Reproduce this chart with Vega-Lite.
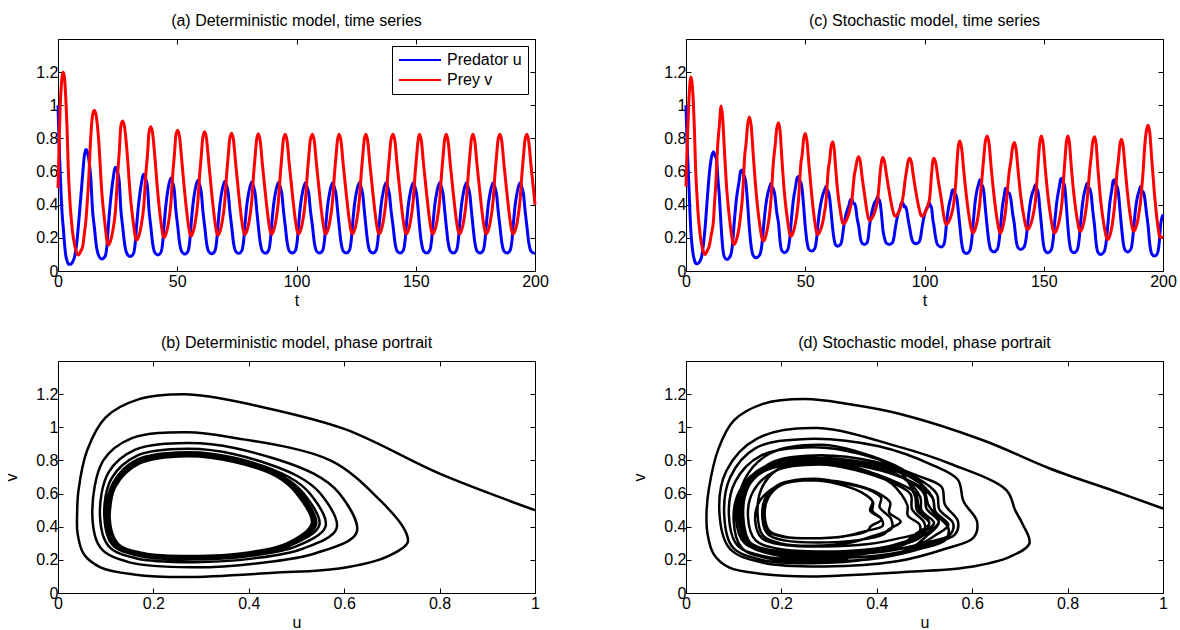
{
"$schema": "https://vega.github.io/schema/vega-lite/v6.json",
"padding": {"left": 3, "top": 12, "right": 5, "bottom": 0},
"bounds": "flush",
"columns": 2,
"spacing": {"row": 90, "column": 151},
"config": {
"font": "Liberation Sans",
"view": {"stroke": "black", "strokeWidth": 1},
"axis": {"grid": false, "domainColor": "black", "tickColor": "black", "labelColor": "black", "titleColor": "black", "labelFontSize": 16, "titleFontSize": 16, "titleFontWeight": "normal", "tickSize": -5, "labelFont": "Liberation Sans", "titleFont": "Liberation Sans", "labelOverlap": false, "labelFlush": false, "labelBound": false},
"axisX": {"labelPadding": 7, "titlePadding": 3},
"axisY": {"labelPadding": 5, "titlePadding": 16},
"title": {"fontSize": 16, "fontWeight": "normal", "color": "black", "font": "Liberation Sans", "offset": 10, "anchor": "middle"}
},
"datasets": {
"det": [
{"t":0,"u":1.0,"v":0.5},{"t":0.4,"u":0.8,"v":0.72},{"t":0.9,"u":0.6,"v":0.99},{"t":1.5,"u":0.4,"v":1.14},{"t":1.8,"u":0.33,"v":1.18},{"t":2.2,"u":0.265,"v":1.2},{"t":2.7,"u":0.17,"v":1.17},{"t":3.2,"u":0.1,"v":1.06},{"t":3.8,"u":0.061,"v":0.86},{"t":4.3,"u":0.043,"v":0.62},{"t":4.8,"u":0.04,"v":0.47},{"t":5.3,"u":0.041,"v":0.36},{"t":6.1,"u":0.054,"v":0.235},{"t":7.0,"u":0.089,"v":0.155},{"t":7.8,"u":0.159,"v":0.112},{"t":8.5,"u":0.265,"v":0.096},{"t":9.6,"u":0.452,"v":0.122},{"t":10.4,"u":0.593,"v":0.15},{"t":11.0,"u":0.69,"v":0.22},{"t":11.7,"u":0.733,"v":0.305},{"t":12.1,"u":0.727,"v":0.38},{"t":12.9,"u":0.676,"v":0.557},{"t":13.7,"u":0.571,"v":0.8},{"t":14.5,"u":0.362,"v":0.94},
{"t":15.2,"u":0.27,"v":0.97},{"t":16.05,"u":0.155,"v":0.935},{"t":17.0,"u":0.095,"v":0.8},{"t":18.4,"u":0.072,"v":0.47},{"t":19.8,"u":0.09,"v":0.27},{"t":20.5,"u":0.15,"v":0.185},{"t":21.15,"u":0.28,"v":0.155},{"t":22.0,"u":0.42,"v":0.18},{"t":22.95,"u":0.54,"v":0.24},{"t":24.1,"u":0.626,"v":0.365},{"t":25.1,"u":0.59,"v":0.6},{"t":25.7,"u":0.536,"v":0.72},{"t":26.35,"u":0.37,"v":0.875},
{"t":27.1,"u":0.27,"v":0.905},{"t":27.95,"u":0.162,"v":0.865},{"t":28.9,"u":0.106,"v":0.728},{"t":30.25,"u":0.088,"v":0.466},{"t":31.65,"u":0.106,"v":0.283},{"t":32.35,"u":0.163,"v":0.21},{"t":33.0,"u":0.28,"v":0.186},{"t":33.85,"u":0.411,"v":0.209},{"t":34.8,"u":0.513,"v":0.267},{"t":35.95,"u":0.584,"v":0.39},{"t":36.9,"u":0.55,"v":0.6},{"t":37.55,"u":0.502,"v":0.706},{"t":38.15,"u":0.37,"v":0.837},
{"t":38.9,"u":0.27,"v":0.87},{"t":39.7,"u":0.165,"v":0.828},{"t":40.6,"u":0.112,"v":0.69},{"t":41.9,"u":0.097,"v":0.463},{"t":43.2,"u":0.114,"v":0.291},{"t":43.9,"u":0.171,"v":0.223},{"t":44.5,"u":0.28,"v":0.202},{"t":45.3,"u":0.406,"v":0.225},{"t":46.2,"u":0.499,"v":0.281},{"t":47.3,"u":0.561,"v":0.403},{"t":48.2,"u":0.528,"v":0.6},{"t":48.8,"u":0.484,"v":0.7},{"t":49.4,"u":0.37,"v":0.816},
{"t":50.2,"u":0.27,"v":0.85},{"t":51.0,"u":0.167,"v":0.806},{"t":51.9,"u":0.116,"v":0.667},{"t":53.2,"u":0.102,"v":0.462},{"t":54.5,"u":0.119,"v":0.295},{"t":55.2,"u":0.175,"v":0.231},{"t":55.8,"u":0.28,"v":0.211},{"t":56.6,"u":0.403,"v":0.234},{"t":57.5,"u":0.49,"v":0.29},{"t":58.6,"u":0.548,"v":0.411},{"t":59.5,"u":0.515,"v":0.6},{"t":60.1,"u":0.473,"v":0.7},{"t":60.7,"u":0.37,"v":0.804},
{"t":61.5,"u":0.27,"v":0.84},{"t":62.3,"u":0.168,"v":0.796},{"t":63.2,"u":0.117,"v":0.656},{"t":64.5,"u":0.104,"v":0.461},{"t":65.8,"u":0.121,"v":0.297},{"t":66.5,"u":0.177,"v":0.234},{"t":67.1,"u":0.28,"v":0.216},{"t":67.9,"u":0.402,"v":0.238},{"t":68.8,"u":0.486,"v":0.294},{"t":69.9,"u":0.541,"v":0.414},{"t":70.8,"u":0.509,"v":0.6},{"t":71.4,"u":0.468,"v":0.7},{"t":72.0,"u":0.37,"v":0.798},
{"t":72.8,"u":0.27,"v":0.832},{"t":73.6,"u":0.169,"v":0.788},{"t":74.5,"u":0.119,"v":0.648},{"t":75.8,"u":0.106,"v":0.46},{"t":77.1,"u":0.123,"v":0.298},{"t":77.8,"u":0.178,"v":0.237},{"t":78.4,"u":0.28,"v":0.22},{"t":79.2,"u":0.401,"v":0.242},{"t":80.1,"u":0.483,"v":0.297},{"t":81.2,"u":0.537,"v":0.417},{"t":82.1,"u":0.505,"v":0.6},{"t":82.7,"u":0.464,"v":0.7},{"t":83.3,"u":0.37,"v":0.794},
{"t":84.0,"u":0.27,"v":0.828},{"t":84.8,"u":0.17,"v":0.783},{"t":85.7,"u":0.12,"v":0.643},{"t":87.0,"u":0.107,"v":0.46},{"t":88.3,"u":0.124,"v":0.299},{"t":89.0,"u":0.179,"v":0.239},{"t":89.6,"u":0.28,"v":0.222},{"t":90.4,"u":0.4,"v":0.244},{"t":91.3,"u":0.481,"v":0.299},{"t":92.4,"u":0.534,"v":0.419},{"t":93.3,"u":0.502,"v":0.6},{"t":93.9,"u":0.462,"v":0.7},{"t":94.5,"u":0.37,"v":0.792},
{"t":95.3,"u":0.27,"v":0.825},{"t":96.1,"u":0.17,"v":0.78},{"t":97.0,"u":0.12,"v":0.64},{"t":98.3,"u":0.108,"v":0.46},{"t":99.6,"u":0.125,"v":0.3},{"t":100.3,"u":0.18,"v":0.24},{"t":100.9,"u":0.28,"v":0.223},{"t":101.7,"u":0.4,"v":0.245},{"t":102.6,"u":0.48,"v":0.3},{"t":103.7,"u":0.532,"v":0.42},{"t":104.6,"u":0.5,"v":0.6},{"t":105.2,"u":0.46,"v":0.7},{"t":105.8,"u":0.37,"v":0.79},
{"t":106.7,"u":0.27,"v":0.825},{"t":107.5,"u":0.17,"v":0.78},{"t":108.4,"u":0.12,"v":0.64},{"t":109.7,"u":0.108,"v":0.46},{"t":111.0,"u":0.125,"v":0.3},{"t":111.7,"u":0.18,"v":0.24},{"t":112.3,"u":0.28,"v":0.223},{"t":113.1,"u":0.4,"v":0.245},{"t":114.0,"u":0.48,"v":0.3},{"t":115.1,"u":0.532,"v":0.42},{"t":116.0,"u":0.5,"v":0.6},{"t":116.6,"u":0.46,"v":0.7},{"t":117.2,"u":0.37,"v":0.79},
{"t":117.9,"u":0.27,"v":0.825},{"t":118.7,"u":0.17,"v":0.78},{"t":119.6,"u":0.12,"v":0.64},{"t":120.9,"u":0.108,"v":0.46},{"t":122.2,"u":0.125,"v":0.3},{"t":122.9,"u":0.18,"v":0.24},{"t":123.5,"u":0.28,"v":0.223},{"t":124.3,"u":0.4,"v":0.245},{"t":125.2,"u":0.48,"v":0.3},{"t":126.3,"u":0.532,"v":0.42},{"t":127.2,"u":0.5,"v":0.6},{"t":127.8,"u":0.46,"v":0.7},{"t":128.4,"u":0.37,"v":0.79},
{"t":129.1,"u":0.27,"v":0.825},{"t":129.9,"u":0.17,"v":0.78},{"t":130.8,"u":0.12,"v":0.64},{"t":132.1,"u":0.108,"v":0.46},{"t":133.4,"u":0.125,"v":0.3},{"t":134.1,"u":0.18,"v":0.24},{"t":134.7,"u":0.28,"v":0.223},{"t":135.5,"u":0.4,"v":0.245},{"t":136.4,"u":0.48,"v":0.3},{"t":137.5,"u":0.532,"v":0.42},{"t":138.4,"u":0.5,"v":0.6},{"t":139.0,"u":0.46,"v":0.7},{"t":139.6,"u":0.37,"v":0.79},
{"t":140.5,"u":0.27,"v":0.825},{"t":141.3,"u":0.17,"v":0.78},{"t":142.2,"u":0.12,"v":0.64},{"t":143.5,"u":0.108,"v":0.46},{"t":144.8,"u":0.125,"v":0.3},{"t":145.5,"u":0.18,"v":0.24},{"t":146.1,"u":0.28,"v":0.223},{"t":146.9,"u":0.4,"v":0.245},{"t":147.8,"u":0.48,"v":0.3},{"t":148.9,"u":0.532,"v":0.42},{"t":149.8,"u":0.5,"v":0.6},{"t":150.4,"u":0.46,"v":0.7},{"t":151.0,"u":0.37,"v":0.79},
{"t":151.6,"u":0.27,"v":0.825},{"t":152.4,"u":0.17,"v":0.78},{"t":153.3,"u":0.12,"v":0.64},{"t":154.6,"u":0.108,"v":0.46},{"t":155.9,"u":0.125,"v":0.3},{"t":156.6,"u":0.18,"v":0.24},{"t":157.2,"u":0.28,"v":0.223},{"t":158.0,"u":0.4,"v":0.245},{"t":158.9,"u":0.48,"v":0.3},{"t":160.0,"u":0.532,"v":0.42},{"t":160.9,"u":0.5,"v":0.6},{"t":161.5,"u":0.46,"v":0.7},{"t":162.1,"u":0.37,"v":0.79},
{"t":162.8,"u":0.27,"v":0.825},{"t":163.6,"u":0.17,"v":0.78},{"t":164.5,"u":0.12,"v":0.64},{"t":165.8,"u":0.108,"v":0.46},{"t":167.1,"u":0.125,"v":0.3},{"t":167.8,"u":0.18,"v":0.24},{"t":168.4,"u":0.28,"v":0.223},{"t":169.2,"u":0.4,"v":0.245},{"t":170.1,"u":0.48,"v":0.3},{"t":171.2,"u":0.532,"v":0.42},{"t":172.1,"u":0.5,"v":0.6},{"t":172.7,"u":0.46,"v":0.7},{"t":173.3,"u":0.37,"v":0.79},
{"t":174.0,"u":0.27,"v":0.825},{"t":174.8,"u":0.17,"v":0.78},{"t":175.7,"u":0.12,"v":0.64},{"t":177.0,"u":0.108,"v":0.46},{"t":178.3,"u":0.125,"v":0.3},{"t":179.0,"u":0.18,"v":0.24},{"t":179.6,"u":0.28,"v":0.223},{"t":180.4,"u":0.4,"v":0.245},{"t":181.3,"u":0.48,"v":0.3},{"t":182.4,"u":0.532,"v":0.42},{"t":183.3,"u":0.5,"v":0.6},{"t":183.9,"u":0.46,"v":0.7},{"t":184.5,"u":0.37,"v":0.79},
{"t":185.3,"u":0.27,"v":0.825},{"t":186.1,"u":0.17,"v":0.78},{"t":187.0,"u":0.12,"v":0.64},{"t":188.3,"u":0.108,"v":0.46},{"t":189.6,"u":0.125,"v":0.3},{"t":190.3,"u":0.18,"v":0.24},{"t":190.9,"u":0.28,"v":0.223},{"t":191.7,"u":0.4,"v":0.245},{"t":192.6,"u":0.48,"v":0.3},{"t":193.7,"u":0.532,"v":0.42},{"t":194.6,"u":0.5,"v":0.6},{"t":195.2,"u":0.46,"v":0.7},{"t":195.8,"u":0.37,"v":0.79},
{"t":196.6,"u":0.27,"v":0.825},{"t":197.4,"u":0.17,"v":0.78},{"t":198.3,"u":0.12,"v":0.64},{"t":199.6,"u":0.108,"v":0.46},{"t":200,"u":0.11,"v":0.4}
],
"sto": [
{"t":0,"u":1.0,"v":0.51},{"t":0.2,"u":0.896,"v":0.617},{"t":0.5,"u":0.764,"v":0.75},{"t":0.9,"u":0.624,"v":0.92},{"t":1.4,"u":0.449,"v":1.08},{"t":1.7,"u":0.34,"v":1.14},{"t":2.0,"u":0.25,"v":1.17},{"t":2.5,"u":0.16,"v":1.14},{"t":3.0,"u":0.1,"v":1.04},{"t":3.5,"u":0.068,"v":0.87},{"t":4.0,"u":0.048,"v":0.63},{"t":4.5,"u":0.043,"v":0.48},{"t":5.0,"u":0.045,"v":0.36},{"t":5.8,"u":0.058,"v":0.235},{"t":6.6,"u":0.09,"v":0.155},{"t":7.3,"u":0.16,"v":0.115},{"t":8.0,"u":0.26,"v":0.1},{"t":9.0,"u":0.45,"v":0.125},{"t":9.8,"u":0.59,"v":0.155},{"t":10.6,"u":0.68,"v":0.22},{"t":11.5,"u":0.72,"v":0.3},{"t":12.0,"u":0.705,"v":0.42},{"t":12.4,"u":0.69,"v":0.5},{"t":12.8,"u":0.672,"v":0.62},{"t":13.4,"u":0.554,"v":0.78},{"t":14.0,"u":0.449,"v":0.88},
{"t":14.7,"u":0.276,"v":0.995},{"t":15.35,"u":0.149,"v":0.932},{"t":16.07,"u":0.085,"v":0.739},{"t":17.1,"u":0.07,"v":0.489},{"t":18.65,"u":0.092,"v":0.267},{"t":19.5,"u":0.162,"v":0.183},{"t":20.2,"u":0.289,"v":0.16},{"t":21.2,"u":0.442,"v":0.191},{"t":22.3,"u":0.544,"v":0.267},{"t":22.9,"u":0.603,"v":0.335},{"t":23.6,"u":0.61,"v":0.433},{"t":24.1,"u":0.582,"v":0.552},{"t":24.55,"u":0.57,"v":0.683},{"t":25.2,"u":0.518,"v":0.77},{"t":25.85,"u":0.404,"v":0.885},
{"t":26.6,"u":0.252,"v":0.93},{"t":27.35,"u":0.146,"v":0.874},{"t":28.2,"u":0.093,"v":0.7},{"t":29.4,"u":0.08,"v":0.476},{"t":30.95,"u":0.098,"v":0.276},{"t":31.8,"u":0.157,"v":0.201},{"t":32.5,"u":0.263,"v":0.18},{"t":33.4,"u":0.39,"v":0.208},{"t":34.4,"u":0.475,"v":0.276},{"t":35.0,"u":0.502,"v":0.338},{"t":35.6,"u":0.53,"v":0.425},{"t":36.1,"u":0.508,"v":0.533},{"t":36.6,"u":0.496,"v":0.65},{"t":37.3,"u":0.454,"v":0.746},{"t":38.0,"u":0.358,"v":0.854},
{"t":38.8,"u":0.286,"v":0.895},{"t":39.45,"u":0.177,"v":0.844},{"t":40.17,"u":0.123,"v":0.685},{"t":41.2,"u":0.11,"v":0.48},{"t":42.65,"u":0.128,"v":0.298},{"t":43.43,"u":0.188,"v":0.229},{"t":44.1,"u":0.297,"v":0.21},{"t":45.0,"u":0.427,"v":0.235},{"t":46.0,"u":0.513,"v":0.298},{"t":46.6,"u":0.564,"v":0.354},{"t":47.2,"u":0.57,"v":0.434},{"t":47.65,"u":0.543,"v":0.532},{"t":48.1,"u":0.536,"v":0.639},{"t":48.7,"u":0.492,"v":0.701},{"t":49.3,"u":0.394,"v":0.794},
{"t":50.0,"u":0.269,"v":0.83},{"t":50.73,"u":0.177,"v":0.784},{"t":51.54,"u":0.131,"v":0.643},{"t":52.7,"u":0.12,"v":0.46},{"t":54.0,"u":0.136,"v":0.298},{"t":54.7,"u":0.186,"v":0.237},{"t":55.3,"u":0.278,"v":0.22},{"t":56.3,"u":0.389,"v":0.243},{"t":57.4,"u":0.462,"v":0.298},{"t":58.0,"u":0.484,"v":0.348},{"t":58.7,"u":0.51,"v":0.419},{"t":59.15,"u":0.489,"v":0.507},{"t":59.6,"u":0.481,"v":0.602},{"t":60.2,"u":0.444,"v":0.664},{"t":60.8,"u":0.361,"v":0.748},
{"t":61.5,"u":0.257,"v":0.78},{"t":62.1,"u":0.191,"v":0.743},{"t":62.7,"u":0.158,"v":0.628},{"t":63.6,"u":0.15,"v":0.48},{"t":64.85,"u":0.161,"v":0.348},{"t":65.5,"u":0.198,"v":0.299},{"t":66.1,"u":0.264,"v":0.285},{"t":67.1,"u":0.343,"v":0.303},{"t":68.3,"u":0.396,"v":0.348},{"t":69.0,"u":0.431,"v":0.389},{"t":69.7,"u":0.43,"v":0.447},{"t":70.15,"u":0.406,"v":0.518},{"t":70.55,"u":0.409,"v":0.575},{"t":71.2,"u":0.382,"v":0.625},{"t":71.7,"u":0.323,"v":0.667},
{"t":72.4,"u":0.271,"v":0.69},{"t":73.08,"u":0.202,"v":0.661},{"t":73.8,"u":0.168,"v":0.572},{"t":74.9,"u":0.16,"v":0.457},{"t":75.95,"u":0.172,"v":0.354},{"t":76.5,"u":0.209,"v":0.316},{"t":77.0,"u":0.278,"v":0.305},{"t":78.0,"u":0.36,"v":0.319},{"t":79.1,"u":0.414,"v":0.354},{"t":79.7,"u":0.426,"v":0.386},{"t":80.4,"u":0.45,"v":0.431},{"t":80.75,"u":0.426,"v":0.486},{"t":81.1,"u":0.428,"v":0.546},{"t":81.5,"u":0.401,"v":0.606},{"t":82.0,"u":0.339,"v":0.663},
{"t":82.5,"u":0.256,"v":0.685},{"t":83.25,"u":0.197,"v":0.658},{"t":84.1,"u":0.167,"v":0.576},{"t":85.3,"u":0.16,"v":0.47},{"t":86.55,"u":0.17,"v":0.375},{"t":87.2,"u":0.203,"v":0.34},{"t":87.8,"u":0.262,"v":0.33},{"t":88.7,"u":0.332,"v":0.343},{"t":89.75,"u":0.379,"v":0.375},{"t":90.35,"u":0.412,"v":0.405},{"t":91.0,"u":0.41,"v":0.446},{"t":91.45,"u":0.386,"v":0.497},{"t":91.9,"u":0.391,"v":0.552},{"t":92.5,"u":0.368,"v":0.607},{"t":93.1,"u":0.315,"v":0.66},
{"t":93.8,"u":0.259,"v":0.68},{"t":94.53,"u":0.201,"v":0.654},{"t":95.34,"u":0.172,"v":0.573},{"t":96.5,"u":0.165,"v":0.468},{"t":97.75,"u":0.175,"v":0.375},{"t":98.4,"u":0.207,"v":0.34},{"t":99.0,"u":0.264,"v":0.33},{"t":99.9,"u":0.334,"v":0.343},{"t":100.95,"u":0.38,"v":0.375},{"t":101.55,"u":0.388,"v":0.404},{"t":102.2,"u":0.41,"v":0.444},{"t":102.5,"u":0.391,"v":0.495},{"t":102.75,"u":0.392,"v":0.549},{"t":103.1,"u":0.368,"v":0.607},{"t":103.45,"u":0.316,"v":0.66},
{"t":103.9,"u":0.277,"v":0.68},{"t":104.74,"u":0.195,"v":0.65},{"t":105.67,"u":0.155,"v":0.557},{"t":107.0,"u":0.145,"v":0.438},{"t":108.1,"u":0.159,"v":0.331},{"t":108.7,"u":0.204,"v":0.291},{"t":109.2,"u":0.285,"v":0.28},{"t":110.1,"u":0.383,"v":0.295},{"t":111.1,"u":0.448,"v":0.331},{"t":111.7,"u":0.488,"v":0.364},{"t":112.3,"u":0.49,"v":0.411},{"t":112.7,"u":0.465,"v":0.468},{"t":113.1,"u":0.464,"v":0.53},{"t":113.65,"u":0.431,"v":0.66},{"t":114.2,"u":0.358,"v":0.756},
{"t":114.8,"u":0.275,"v":0.785},{"t":115.56,"u":0.17,"v":0.743},{"t":116.4,"u":0.117,"v":0.615},{"t":117.6,"u":0.105,"v":0.449},{"t":119.0,"u":0.123,"v":0.301},{"t":119.76,"u":0.181,"v":0.246},{"t":120.4,"u":0.286,"v":0.23},{"t":121.2,"u":0.412,"v":0.251},{"t":122.1,"u":0.495,"v":0.301},{"t":122.65,"u":0.522,"v":0.347},{"t":123.2,"u":0.55,"v":0.411},{"t":123.7,"u":0.523,"v":0.491},{"t":124.2,"u":0.517,"v":0.577},{"t":124.9,"u":0.474,"v":0.693},{"t":125.5,"u":0.38,"v":0.781},
{"t":126.3,"u":0.262,"v":0.815},{"t":127.06,"u":0.171,"v":0.771},{"t":127.9,"u":0.126,"v":0.635},{"t":129.1,"u":0.115,"v":0.46},{"t":130.5,"u":0.13,"v":0.305},{"t":131.26,"u":0.18,"v":0.246},{"t":131.9,"u":0.271,"v":0.23},{"t":132.6,"u":0.38,"v":0.252},{"t":133.4,"u":0.453,"v":0.305},{"t":133.9,"u":0.497,"v":0.353},{"t":134.4,"u":0.5,"v":0.421},{"t":134.9,"u":0.474,"v":0.505},{"t":135.5,"u":0.471,"v":0.596},{"t":136.2,"u":0.435,"v":0.662},{"t":136.9,"u":0.353,"v":0.743},
{"t":137.7,"u":0.279,"v":0.775},{"t":138.4,"u":0.187,"v":0.736},{"t":139.2,"u":0.141,"v":0.614},{"t":140.3,"u":0.13,"v":0.457},{"t":141.8,"u":0.146,"v":0.317},{"t":142.6,"u":0.196,"v":0.265},{"t":143.3,"u":0.288,"v":0.25},{"t":144.2,"u":0.399,"v":0.269},{"t":145.25,"u":0.472,"v":0.317},{"t":145.85,"u":0.492,"v":0.36},{"t":146.5,"u":0.52,"v":0.422},{"t":146.9,"u":0.494,"v":0.497},{"t":147.3,"u":0.491,"v":0.579},{"t":147.85,"u":0.454,"v":0.697},{"t":148.4,"u":0.371,"v":0.782},
{"t":149.0,"u":0.282,"v":0.815},{"t":149.73,"u":0.176,"v":0.771},{"t":150.54,"u":0.123,"v":0.635},{"t":151.7,"u":0.11,"v":0.46},{"t":153.15,"u":0.128,"v":0.305},{"t":153.93,"u":0.187,"v":0.246},{"t":154.6,"u":0.293,"v":0.23},{"t":155.5,"u":0.42,"v":0.252},{"t":156.5,"u":0.505,"v":0.305},{"t":157.1,"u":0.554,"v":0.353},{"t":157.7,"u":0.56,"v":0.421},{"t":158.1,"u":0.531,"v":0.505},{"t":158.5,"u":0.526,"v":0.596},{"t":159.0,"u":0.484,"v":0.693},{"t":159.5,"u":0.388,"v":0.781},
{"t":160.1,"u":0.27,"v":0.815},{"t":160.78,"u":0.171,"v":0.772},{"t":161.5,"u":0.122,"v":0.638},{"t":162.6,"u":0.11,"v":0.467},{"t":164.0,"u":0.127,"v":0.314},{"t":164.76,"u":0.181,"v":0.256},{"t":165.4,"u":0.281,"v":0.24},{"t":166.2,"u":0.399,"v":0.261},{"t":167.1,"u":0.478,"v":0.314},{"t":167.6,"u":0.503,"v":0.361},{"t":168.2,"u":0.53,"v":0.428},{"t":168.7,"u":0.504,"v":0.51},{"t":169.2,"u":0.499,"v":0.6},{"t":169.9,"u":0.459,"v":0.691},{"t":170.5,"u":0.37,"v":0.777},
{"t":171.3,"u":0.272,"v":0.81},{"t":171.98,"u":0.166,"v":0.764},{"t":172.7,"u":0.113,"v":0.62},{"t":173.8,"u":0.1,"v":0.434},{"t":175.35,"u":0.118,"v":0.269},{"t":176.2,"u":0.177,"v":0.207},{"t":176.9,"u":0.283,"v":0.19},{"t":177.7,"u":0.41,"v":0.213},{"t":178.6,"u":0.495,"v":0.269},{"t":179.1,"u":0.544,"v":0.32},{"t":179.7,"u":0.55,"v":0.393},{"t":180.2,"u":0.523,"v":0.481},{"t":180.6,"u":0.516,"v":0.578},{"t":181.3,"u":0.474,"v":0.669},{"t":181.9,"u":0.378,"v":0.76},
{"t":182.6,"u":0.266,"v":0.795},{"t":183.3,"u":0.173,"v":0.753},{"t":184.1,"u":0.126,"v":0.625},{"t":185.2,"u":0.115,"v":0.459},{"t":186.5,"u":0.131,"v":0.311},{"t":187.2,"u":0.182,"v":0.256},{"t":187.8,"u":0.275,"v":0.24},{"t":188.6,"u":0.387,"v":0.261},{"t":189.5,"u":0.461,"v":0.311},{"t":190.0,"u":0.482,"v":0.357},{"t":190.6,"u":0.51,"v":0.421},{"t":191.1,"u":0.484,"v":0.501},{"t":191.6,"u":0.48,"v":0.587},{"t":192.3,"u":0.443,"v":0.747},{"t":193.0,"u":0.359,"v":0.843},
{"t":193.8,"u":0.266,"v":0.88},{"t":194.5,"u":0.157,"v":0.829},{"t":195.3,"u":0.103,"v":0.671},{"t":196.4,"u":0.09,"v":0.468},{"t":197.7,"u":0.108,"v":0.287},{"t":198.4,"u":0.168,"v":0.219},{"t":199.0,"u":0.277,"v":0.2},{"t":200,"u":0.34,"v":0.21}
]
},
"concat": [
{
"width": 477, "height": 232,
"title": "(a) Deterministic model, time series",
"data": {"name": "det"},
"transform": [{"fold": ["u", "v"], "as": ["series", "value"]}],
"layer": [
{"mark": {"type": "line", "strokeWidth": 3, "interpolate": "monotone"},
"encoding": {
"x": {"field": "t", "type": "quantitative", "scale": {"domain": [0, 200], "nice": false}, "axis": {"title": "t", "values": [0, 50, 100, 150, 200], "format": "d"}},
"y": {"field": "value", "type": "quantitative", "scale": {"domain": [0, 1.4], "nice": false}, "axis": {"title": null, "values": [0, 0.2, 0.4, 0.6, 0.8, 1, 1.2], "format": ".1~f"}},
"color": {"field": "series", "type": "nominal", "scale": {"domain": ["u", "v"], "range": ["#0000ff", "#ff0000"]},
"legend": {"title": null, "orient": "none", "legendX": 334, "legendY": 7, "strokeColor": "black", "fillColor": "white", "padding": 6, "labelFontSize": 16, "labelFont": "Liberation Sans", "labelColor": "black", "symbolType": "stroke", "symbolStrokeWidth": 2, "symbolSize": 1764, "labelOffset": 5, "clipHeight": 16, "rowPadding": 4, "cornerRadius": 0, "labelExpr": "datum.label == 'u' ? 'Predator u' : 'Prey v'"}}
}},
{"mark": {"type": "line", "strokeOpacity": 0},
"encoding": {
"x": {"field": "t", "type": "quantitative", "axis": {"orient": "top", "labels": false, "title": null, "values": [0, 50, 100, 150, 200]}},
"y": {"field": "value", "type": "quantitative", "axis": {"orient": "right", "labels": false, "title": null, "values": [0, 0.2, 0.4, 0.6, 0.8, 1, 1.2]}}
}}
],
"resolve": {"axis": {"x": "independent", "y": "independent"}}
},
{
"width": 477, "height": 232,
"title": "(c) Stochastic model, time series",
"data": {"name": "sto"},
"transform": [{"fold": ["u", "v"], "as": ["series", "value"]}],
"layer": [
{"mark": {"type": "line", "strokeWidth": 3, "interpolate": "monotone"},
"encoding": {
"x": {"field": "t", "type": "quantitative", "scale": {"domain": [0, 200], "nice": false}, "axis": {"title": "t", "values": [0, 50, 100, 150, 200], "format": "d"}},
"y": {"field": "value", "type": "quantitative", "scale": {"domain": [0, 1.4], "nice": false}, "axis": {"title": null, "values": [0, 0.2, 0.4, 0.6, 0.8, 1, 1.2], "format": ".1~f"}},
"color": {"field": "series", "type": "nominal", "scale": {"domain": ["u", "v"], "range": ["#0000ff", "#ff0000"]}, "legend": null}
}},
{"mark": {"type": "line", "strokeOpacity": 0},
"encoding": {
"x": {"field": "t", "type": "quantitative", "axis": {"orient": "top", "labels": false, "title": null, "values": [0, 50, 100, 150, 200]}},
"y": {"field": "value", "type": "quantitative", "axis": {"orient": "right", "labels": false, "title": null, "values": [0, 0.2, 0.4, 0.6, 0.8, 1, 1.2]}}
}}
],
"resolve": {"axis": {"x": "independent", "y": "independent"}}
},
{
"width": 477, "height": 232,
"title": "(b) Deterministic model, phase portrait",
"data": {"name": "det"},
"layer": [
{"mark": {"type": "line", "color": "black", "strokeWidth": 2.5, "interpolate": "catmull-rom"},
"encoding": {
"x": {"field": "u", "type": "quantitative", "scale": {"domain": [0, 1], "nice": false}, "axis": {"title": "u", "values": [0, 0.2, 0.4, 0.6, 0.8, 1], "format": ".1~f"}},
"y": {"field": "v", "type": "quantitative", "scale": {"domain": [0, 1.4], "nice": false}, "axis": {"title": "v", "values": [0, 0.2, 0.4, 0.6, 0.8, 1, 1.2], "format": ".1~f"}},
"order": {"field": "t", "type": "quantitative"}
}},
{"mark": {"type": "line", "strokeOpacity": 0},
"encoding": {
"x": {"field": "u", "type": "quantitative", "axis": {"orient": "top", "labels": false, "title": null, "values": [0, 0.2, 0.4, 0.6, 0.8, 1]}},
"y": {"field": "v", "type": "quantitative", "axis": {"orient": "right", "labels": false, "title": null, "values": [0, 0.2, 0.4, 0.6, 0.8, 1, 1.2]}},
"order": {"field": "t", "type": "quantitative"}
}}
],
"resolve": {"axis": {"x": "independent", "y": "independent"}}
},
{
"width": 477, "height": 232,
"title": "(d) Stochastic model, phase portrait",
"data": {"name": "sto"},
"layer": [
{"mark": {"type": "line", "color": "black", "strokeWidth": 2.5, "interpolate": "catmull-rom"},
"encoding": {
"x": {"field": "u", "type": "quantitative", "scale": {"domain": [0, 1], "nice": false}, "axis": {"title": "u", "values": [0, 0.2, 0.4, 0.6, 0.8, 1], "format": ".1~f"}},
"y": {"field": "v", "type": "quantitative", "scale": {"domain": [0, 1.4], "nice": false}, "axis": {"title": "v", "values": [0, 0.2, 0.4, 0.6, 0.8, 1, 1.2], "format": ".1~f"}},
"order": {"field": "t", "type": "quantitative"}
}},
{"mark": {"type": "line", "strokeOpacity": 0},
"encoding": {
"x": {"field": "u", "type": "quantitative", "axis": {"orient": "top", "labels": false, "title": null, "values": [0, 0.2, 0.4, 0.6, 0.8, 1]}},
"y": {"field": "v", "type": "quantitative", "axis": {"orient": "right", "labels": false, "title": null, "values": [0, 0.2, 0.4, 0.6, 0.8, 1, 1.2]}},
"order": {"field": "t", "type": "quantitative"}
}}
],
"resolve": {"axis": {"x": "independent", "y": "independent"}}
}
]
}
